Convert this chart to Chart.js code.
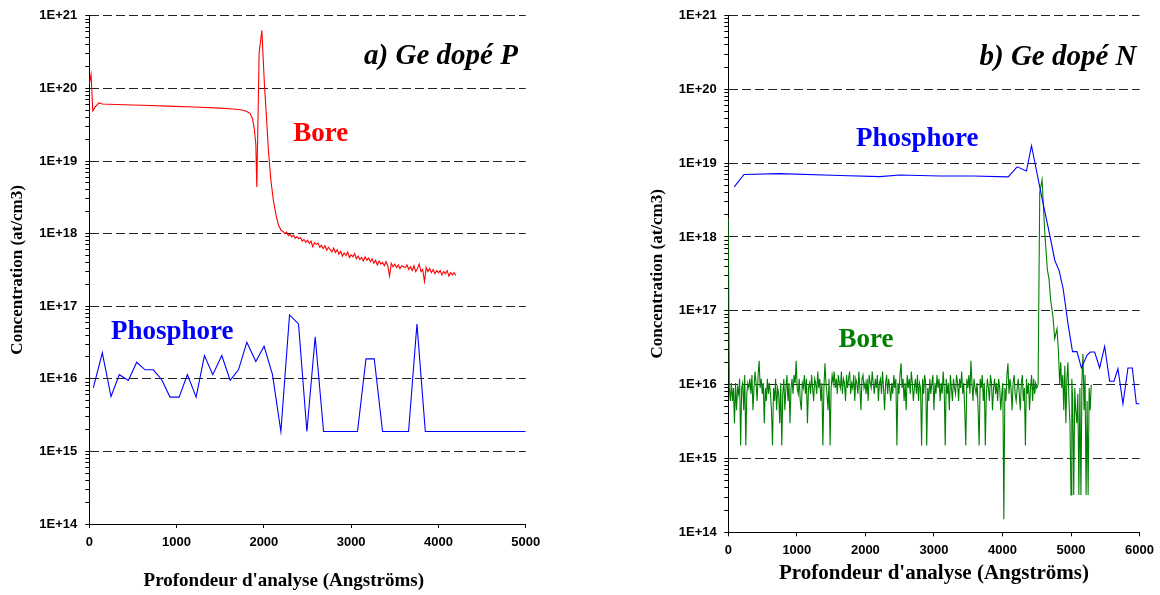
<!DOCTYPE html>
<html><head><meta charset="utf-8">
<script src="https://cdn.jsdelivr.net/npm/chart.js@4.4.1/dist/chart.umd.min.js"></script>
<style>
html,body{margin:0;padding:0;background:#fff;width:1160px;height:595px;overflow:hidden}
canvas{position:absolute;top:0}
#cA{left:0}
#cB{left:580px}
</style></head><body>
<canvas id="cA" width="560" height="595"></canvas>
<canvas id="cB" width="580" height="595"></canvas>
<script>
// ---------- common ----------
const yTickLabels = ['1E+14','1E+15','1E+16','1E+17','1E+18','1E+19','1E+20','1E+21'];
const xTicksA = [0,1000,2000,3000,4000,5000];
const xTicksB = [0,1000,2000,3000,4000,5000,6000];
const xTitle = "Profondeur d'analyse (Angströms)";
const yTitle = 'Concentration (at/cm3)';

// ---------- panel a) Ge dopé P ----------
// Bore (red) : head points then a regular 20 Å grid tail
const boreA_headDepth = [0,20,40,70,110,150,300,600,900,1200,1500,1650,1750,1800,1843,1870,1890,1908,1919,1946,1977,2007,2030,2053,2080,2110,2140,2168,2200];
const boreA_headConc = [1.15e20,1.55e20,4.9e19,5.6e19,6.3e19,6.1e19,6.0e19,5.85e19,5.7e19,5.55e19,5.35e19,5.2e19,5.05e19,4.85e19,4.5e19,3.8e19,2.8e19,1.7e19,4.4e18,3.1e20,6.3e20,1.1e20,4.0e19,1.35e19,5.5e18,2.8e18,1.8e18,1.3e18,1.1e18];
const boreA_tailStart = 2220, boreA_tailStep = 20;
const boreA_tailConc = [
1.08e18,1.0e18,1.05e18,9.4e17,9.8e17,9.0e17,9.5e17,8.6e17,9.1e17,8.5e17,
8.8e17,7.9e17,8.3e17,7.6e17,8.1e17,7.3e17,7.9e17,6.6e17,7.5e17,7.1e17,
7.4e17,6.5e17,6.9e17,6.2e17,6.8e17,5.9e17,6.5e17,6.0e17,5.6e17,6.3e17,
5.5e17,6.0e17,5.2e17,5.7e17,4.9e17,5.4e17,5.0e17,5.6e17,4.7e17,5.1e17,
4.8e17,5.3e17,4.5e17,4.9e17,4.4e17,4.7e17,4.2e17,4.8e17,4.3e17,4.6e17,
4.1e17,4.5e17,3.9e17,4.3e17,3.7e17,4.2e17,3.8e17,4.0e17,3.6e17,4.1e17,
3.6e17,2.6e17,3.9e17,3.5e17,3.8e17,3.4e17,3.7e17,3.3e17,3.6e17,3.5e17,
3.4e17,3.7e17,3.2e17,3.5e17,3.1e17,3.6e17,3.0e17,3.3e17,3.8e17,3.0e17,
3.2e17,2.2e17,3.4e17,3.0e17,3.3e17,2.9e17,3.2e17,2.8e17,3.1e17,2.9e17,
3.1e17,2.7e17,3.0e17,2.8e17,3.1e17,2.6e17,2.9e17,2.7e17,2.9e17,2.65e17];
// Phosphore (blue)
const phosA_depth = [46,149,249,344,447,543,639,734,830,925,1029,1124,1224,1319,1415,1518,1614,1709,1805,1908,2003,2099,2195,2294,2397,2493,2588,2684,2781,2878,2975,3073,3170,3265,3360,3457,3555,3658,3754,3850,3947,4044,4141,4238,4335,4432,4529,4626,4723,4820,4917,5000];
const phosA_conc = [7.5e15,2.28e16,5.7e15,1.14e16,9.5e15,1.69e16,1.33e16,1.33e16,9.7e15,5.6e15,
5.6e15,1.14e16,5.6e15,2.09e16,1.14e16,2.09e16,9.5e15,1.33e16,3.19e16,1.73e16,
2.81e16,1.14e16,1.88e15,7.59e16,5.7e16,1.88e15,3.8e16,1.88e15,1.88e15,1.88e15,
1.88e15,1.88e15,1.88e16,1.88e16,1.88e15,1.88e15,1.88e15,1.88e15,5.7e16,1.88e15,
1.88e15,1.88e15,1.88e15,1.88e15,1.88e15,1.88e15,1.88e15,1.88e15,1.88e15,1.88e15,1.88e15,1.88e15];

// ---------- panel b) Ge dopé N ----------
// Phosphore (blue)
const phosB_depth = [87,229,754,1629,2212,2503,3086,3573,4083,4215,4350,4424,4570,4691,4764,4827,4885,4958,5022,5087,5152,5233,5282,5345,5418,5491,5564,5627,5685,5758,5831,5895,5953,6000];
const phosB_conc = [4.76e18,7.0e18,7.2e18,6.8e18,6.55e18,6.9e18,6.7e18,6.7e18,6.5e18,8.9e18,7.8e18,1.72e19,3.6e18,1.05e18,4.8e17,3.5e17,2.0e17,6.5e16,2.8e16,2.8e16,1.68e16,2.49e16,2.76e16,2.76e16,1.68e16,3.29e16,1.11e16,1.11e16,1.64e16,5.5e15,1.68e16,1.68e16,5.5e15,5.5e15];
// Bore (green): regular 15 Å grid from 0 to 4500 Å, then explicit points
const boreB_gridStart = 0, boreB_gridStep = 15;
const boreB_gridConc = [1.8e18,
9e15,6e15,1.05e16,6e15,9e15,3e15,1.05e16,4.5e15,9e15,7.5e15,1.2e16,1.5e15,9e15,1.05e16,4.5e15,1.35e16,1.5e15,7.5e15,1.05e16,9e15,
1.2e16,7.5e15,1.35e16,4.5e15,9e15,1.5e16,1.05e16,6e15,1.35e16,2.1e16,9e15,1.2e16,7.5e15,1.05e16,3e15,9e15,6e15,1.2e16,7.5e15,1.05e16,
7.5e15,4.5e15,1.5e15,9e15,6e15,1.2e16,4.5e15,9e15,7.5e15,3e15,1.05e16,1.5e15,7.5e15,1.2e16,4.5e15,9e15,1.35e16,6e15,1.05e16,3e15,
9e15,1.2e16,7.5e15,1.35e16,1.05e16,2.1e16,9e15,7.5e15,1.2e16,6e15,4.5e15,1.05e16,9e15,1.35e16,7.5e15,1.2e16,3e15,9e15,1.05e16,7.5e15,
1.35e16,9e15,6e15,1.2e16,1.05e16,7.5e15,1.5e16,9e15,1.2e16,6e15,1.05e16,1.5e15,9e15,1.95e16,1.05e16,7.5e15,4.5e15,1.2e16,1.5e15,9e15,
1.35e16,1.05e16,1.5e16,9e15,1.2e16,7.5e15,1.35e16,1.05e16,9e15,1.5e16,7.5e15,1.2e16,1.05e16,6e15,1.35e16,9e15,1.2e16,1.5e16,7.5e15,1.05e16,
9e15,1.35e16,6e15,1.2e16,1.05e16,7.5e15,1.5e16,9e15,4.5e15,1.2e16,1.35e16,9e15,1.05e16,7.5e15,1.2e16,6e15,1.35e16,1.05e16,9e15,1.5e16,
1.05e16,7.5e15,1.2e16,9e15,1.35e16,6e15,1.05e16,1.2e16,7.5e15,1.5e16,9e15,4.5e15,1.05e16,1.35e16,7.5e15,1.2e16,9e15,6e15,1.05e16,7.5e15,
1.35e16,9e15,1.2e16,1.5e15,1.05e16,7.5e15,1.35e16,1.95e16,9e15,1.2e16,6e15,1.05e16,4.5e15,1.35e16,9e15,1.2e16,7.5e15,1.5e16,1.05e16,6e15,
9e15,1.2e16,7.5e15,1.35e16,6e15,1.05e16,9e15,1.5e15,1.2e16,7.5e15,1.35e16,1.05e16,1.5e15,9e15,6e15,1.2e16,7.5e15,1.05e16,1.35e16,4.5e15,
1.05e16,7.5e15,1.35e16,9e15,1.2e16,6e15,1.05e16,7.5e15,1.5e16,9e15,1.5e15,1.2e16,7.5e15,1.05e16,4.5e15,1.35e16,9e15,6e15,1.2e16,9e15,
7.5e15,1.35e16,1.05e16,6e15,1.2e16,9e15,1.5e16,7.5e15,1.05e16,4.5e15,1.5e15,1.2e16,9e15,1.35e16,7.5e15,2.1e16,1.05e16,6e15,1.2e16,9e15,
7.5e15,1.05e16,4.5e15,1.5e15,1.2e16,9e15,1.35e16,6e15,1.05e16,1.5e15,7.5e15,1.2e16,9e15,6e15,1.35e16,1.05e16,4.5e15,9e15,1.2e16,7.5e15,
1.05e16,6e15,1.2e16,9e15,4.5e15,7.5e15,1.05e16,1.5e14,9e15,6e15,1.35e16,1.95e16,7.5e15,1.2e16,9e15,4.5e15,1.05e16,1.35e16,7.5e15,6e15,
9e15,1.2e16,7.5e15,4.5e15,1.05e16,1.35e16,6e15,9e15,1.5e15,1.2e16,7.5e15,1.05e16,4.5e15,9e15,1.35e16,6e15,1.2e16,7.5e15,1.05e16,9e15];
const boreB_tailDepth = [4520,4544,4578,4617,4655,4679,4704,4738,4762,4796,4816,4835,4850,4865,4880,4895,4910,4925,4940,4955,4970,4985,5000,5012,5025,5040,5055,5070,5085,5100,5115,5130,5145,5160,5175,5190,5205,5220,5235,5250,5265,5280,5295];
const boreB_tailConc = [1.0e16,4.0e18,6.0e18,1.15e18,3.6e17,2.7e17,1.38e17,8.1e16,4.2e16,5.7e16,2.9e16,1.0e16,2.0e16,9e15,1.35e16,4.5e15,1.8e16,3e15,1.2e16,2e16,6e15,3e15,3.2e14,1.2e16,6e15,3.2e14,9e15,4.5e15,3e15,7.5e15,3.2e14,9e15,3.2e14,1.2e16,2.6e16,4.5e15,1.35e16,3.2e14,6e15,3.2e14,9e15,4.5e15,1.0e16];

// ---------- text annotations (positioned in data units) ----------
const notesA = [
  {text:'a) Ge dopé P', depth:4910, conc:2.2e20, font:'italic bold 29px "Liberation Serif"', color:'#000000', align:'right'},
  {text:'Bore', depth:2652, conc:1.87e19, font:'bold 27px "Liberation Serif"', color:'#ff0000', align:'center'},
  {text:'Phosphore', depth:950, conc:3.57e16, font:'bold 27px "Liberation Serif"', color:'#0000ff', align:'center'},
  {text:xTitle, px:283.8, py:581, font:'bold 19px "Liberation Serif"', color:'#000000', align:'center', baseline:'middle'}
];
const notesB = [
  {text:'b) Ge dopé N', depth:5956, conc:2.12e20, font:'italic bold 29px "Liberation Serif"', color:'#000000', align:'right'},
  {text:'Phosphore', depth:2757, conc:1.71e19, font:'bold 27px "Liberation Serif"', color:'#0000ff', align:'center'},
  {text:'Bore', depth:2008, conc:3.28e16, font:'bold 27px "Liberation Serif"', color:'#008000', align:'center'}
];

// ---------- build point lists ----------
function zip(d, c){ return d.map((x,i)=>({x:x, y:c[i]})); }
function grid(start, step, c){ return c.map((y,i)=>({x:start+i*step, y:y})); }

const boreA = zip(boreA_headDepth, boreA_headConc).concat(grid(boreA_tailStart, boreA_tailStep, boreA_tailConc));
const phosA = zip(phosA_depth, phosA_conc);
const phosB = zip(phosB_depth, phosB_conc);
const boreB = grid(boreB_gridStart, boreB_gridStep, boreB_gridConc).concat(zip(boreB_tailDepth, boreB_tailConc));

// ---------- helpers ----------
function exp10(v){ return Math.log10(v); }
function isPow10(v){ const e=exp10(v); return Math.abs(e-Math.round(e))<1e-6; }
function isIntMant(v){ const f=Math.floor(exp10(v)+1e-9); const m=v/Math.pow(10,f); return Math.abs(m-Math.round(m))<1e-6; }
function sciLabel(v){
  if(!isPow10(v)) return '';
  const e=Math.round(exp10(v));
  const lab='1E+'+e;
  return yTickLabels.includes(lab) ? lab : '';
}

const textPlugin = {
  id:'textLabels',
  afterDraw(chart, args, opts){
    const ctx=chart.ctx;
    (opts.items||[]).forEach(it=>{
      ctx.save();
      ctx.font=it.font; ctx.fillStyle=it.color;
      ctx.textAlign=it.align||'center';
      ctx.textBaseline=it.baseline||'alphabetic';
      let x,y;
      if(it.depth!==undefined){ x=chart.scales.x.getPixelForValue(it.depth); y=chart.scales.y.getPixelForValue(it.conc); }
      else { x=it.px; y=it.py; }
      ctx.fillText(it.text,x,y);
      ctx.restore();
    });
  }
};

const tickFontY = {family:'"Liberation Sans", Arial, sans-serif', size:13, weight:'bold'};
const tickFontX = {family:'"Liberation Sans", Arial, sans-serif', size:13, weight:'bold'};
const titleFontY = {family:'"Liberation Serif", "Times New Roman", serif', size:17, weight:'bold'};

function makeChart(id, o){
  return new Chart(document.getElementById(id), {
    type:'scatter',
    data:{datasets:o.datasets.map(d=>({data:d.data, showLine:true, borderColor:d.color, backgroundColor:d.color, borderWidth:1.1, pointRadius:0, pointHoverRadius:0, tension:0, fill:false}))},
    plugins:[textPlugin],
    options:{
      responsive:false, animation:false, devicePixelRatio:1, events:[],
      layout:{padding:o.padding},
      plugins:{legend:{display:false}, tooltip:{enabled:false}, textLabels:{items:o.notes}},
      scales:{
        x:{type:'linear', min:0, max:o.xmax,
           afterBuildTicks(s){ s.ticks=o.xticks.map(v=>({value:v})); },
           ticks:{callback:v=>String(v), font:tickFontX, color:'#000', padding:o.xpad, maxRotation:0, autoSkip:false},
           grid:{drawOnChartArea:false, drawTicks:true, tickLength:4, color:'#000', tickColor:'#000'},
           border:{display:true, color:'#000', width:1},
           title:o.xTitle,
           afterFit(s){ s.height=o.xh; }},
        y:{type:'logarithmic', min:1e14, max:1e21,
           ticks:{autoSkip:false, callback:sciLabel, font:tickFontY, color:'#000', padding:o.ypad},
           grid:{drawOnChartArea:true, drawTicks:true, tickLength:4, lineWidth:1,
                 color:c=>(c.tick && isPow10(c.tick.value)) ? '#222' : 'rgba(0,0,0,0)',
                 tickColor:c=>(c.tick && isIntMant(c.tick.value)) ? '#000' : 'rgba(0,0,0,0)'},
           border:{display:true, color:'#000', width:1, dash:[9,4]},
           title:{display:true, text:yTitle, font:titleFontY, color:'#000', padding:{top:7.3,bottom:0}},
           afterFit(s){ s.width=o.yw; }}
      }
    }
  });
}

makeChart('cA', {
  datasets:[{data:boreA, color:'#ff0000'},{data:phosA, color:'#0000ff'}],
  padding:{left:0, top:14, right:34.3, bottom:0},
  xmax:5000, xticks:xTicksA, xpad:7, ypad:8, xh:71, yw:89.3,
  xTitle:{display:false},
  notes:notesA
});
makeChart('cB', {
  datasets:[{data:phosB, color:'#0000ff'},{data:boreB, color:'#008000'}],
  padding:{left:60, top:11.7, right:20.3, bottom:0},
  xmax:6000, xticks:xTicksB, xpad:6, ypad:7.6, xh:62.7, yw:88.3,
  xTitle:{display:true, text:xTitle, font:{family:'"Liberation Serif", "Times New Roman", serif', size:21, weight:'bold'}, color:'#000', padding:{top:0,bottom:8.4}},
  notes:notesB
});
</script>
</body></html>
